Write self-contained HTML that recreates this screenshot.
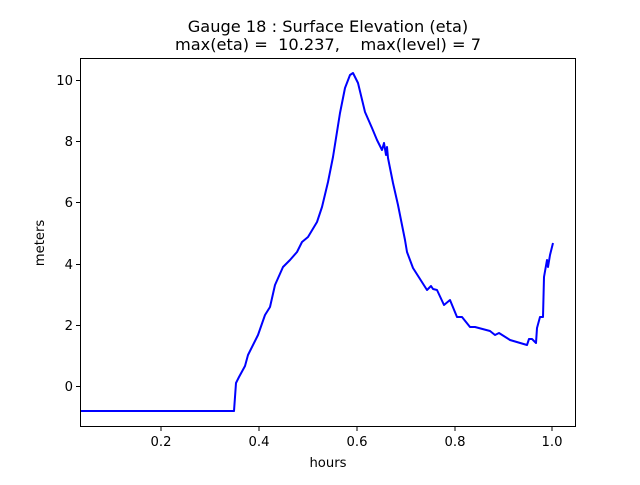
<!DOCTYPE html>
<html><head><meta charset="utf-8"><style>
body{margin:0;background:#fff;}
svg text{font-family:"DejaVu Sans","Liberation Sans",sans-serif;}
</style></head><body>
<svg width="640" height="480" viewBox="0 0 640 480" xmlns="http://www.w3.org/2000/svg">
<rect width="640" height="480" fill="#fff"/>
<text x="328" y="32" font-size="16.2" text-anchor="middle">Gauge 18 : Surface Elevation (eta)</text>
<text x="328" y="50" font-size="16.2" text-anchor="middle" xml:space="preserve">max(eta) =  10.237,    max(level) = 7</text>
<polyline fill="none" stroke="#0000ff" stroke-width="2" stroke-linejoin="round" points="80,411 234,411 236,383 239,377 245,366 248,355 258,335 265,315 270,307 275,285 283,267 290,260 297,252 302,242 308,237 317,222 322,207 328,182 333,157 340,113 345,88 350,75 353,73 358,83 365,112 372,128 377,140 382,150 384,143 386,155 387,147 388,158 393,183 398,205 405,240 407,252 413,268 427,290 431,286 433,289 437,290 444,305 450,300 457,317 462,317 470,327 475,327 490,331 495,335 499,333 510,340 527,345 529,339 532,339 536,343 537,328 540,317 543,317 544,277 547,260 548,267 550,255 553,243"/>
<rect x="80.5" y="58.5" width="495" height="368" fill="none" stroke="#000" stroke-width="1"/>
<g stroke="#000" stroke-width="1">
<line x1="161" y1="427" x2="161" y2="431"/><line x1="259" y1="427" x2="259" y2="431"/><line x1="357" y1="427" x2="357" y2="431"/><line x1="455" y1="427" x2="455" y2="431"/><line x1="552" y1="427" x2="552" y2="431"/>
<line x1="76" y1="386.5" x2="80" y2="386.5"/><line x1="76" y1="325.5" x2="80" y2="325.5"/><line x1="76" y1="264.5" x2="80" y2="264.5"/><line x1="76" y1="202.5" x2="80" y2="202.5"/><line x1="76" y1="141.5" x2="80" y2="141.5"/><line x1="76" y1="80.5" x2="80" y2="80.5"/>
</g>
<g font-size="13.2" text-anchor="middle">
<text x="161" y="446">0.2</text><text x="259" y="446">0.4</text><text x="357" y="446">0.6</text><text x="455" y="446">0.8</text><text x="552" y="446">1.0</text>
<text x="328" y="467">hours</text>
</g>
<g font-size="13.2" text-anchor="end">
<text x="73" y="391">0</text><text x="73" y="330">2</text><text x="73" y="269">4</text><text x="73" y="207">6</text><text x="73" y="146">8</text><text x="73" y="85">10</text>
</g>
<text transform="translate(44,243) rotate(-90)" font-size="13.2" text-anchor="middle">meters</text>
</svg>
</body></html>
